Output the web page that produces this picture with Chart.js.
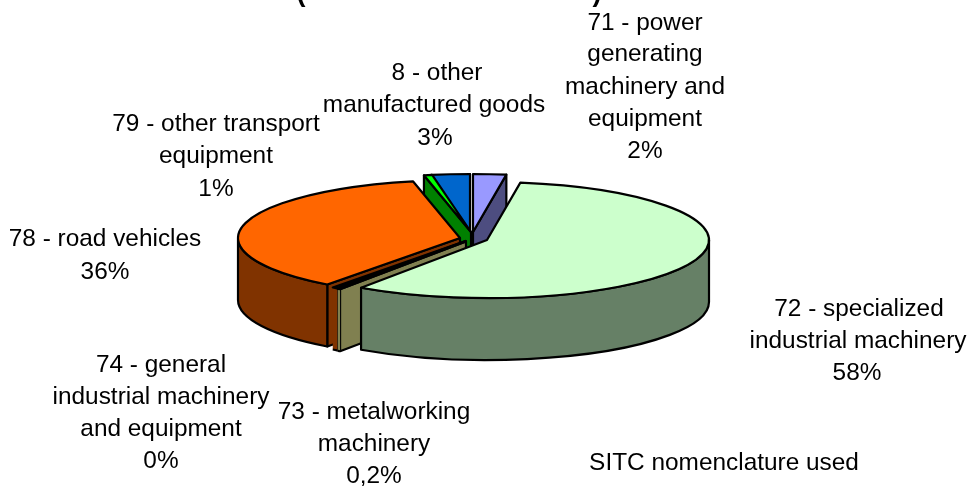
<!DOCTYPE html>
<html><head><meta charset="utf-8">
<style>html,body{margin:0;padding:0;background:#fff}#w{position:relative;width:969px;height:487px}</style>
<script src="https://cdn.jsdelivr.net/npm/chart.js@4"></script>
</head><body><div id="w"><canvas id="c" width="969" height="487"></canvas></div>
<script>
// Data
const categories = ['71 - power generating machinery and equipment','72 - specialized industrial machinery','73 - metalworking machinery','74 - general industrial machinery and equipment','78 - road vehicles','79 - other transport equipment','8 - other manufactured goods'];
const shares = [2.4, 57.2, 0.2, 0.4, 36.4, 0.6, 2.8];
const shareLabels = ['2%','58%','0,2%','0%','36%','1%','3%'];
const noteText = 'SITC nomenclature used';

// Styles
const topColors  = ['#9999ff','#ccffcc','#ffffcc','#993300','#ff6600','#00ff00','#0066cc'];
const sideColors = ['#4d4d80','#668066','#808050','#803300','#803300','#008000','#003366'];
const explodeX = [1, 15, -6, -6.5, -12, -1, -2];
const explodeY = [-7, 1, 2.5, 2, -1, -7, -7];
const paintOrder = [6,5,0,4,3,2,1];
const tilt = 58/222, depth = 62;
const labelLines = [
 ['71 - power',645,23],['generating',645,54],['machinery and',645,87],['equipment',645,119],[shareLabels[0],645,151],
 ['8 - other',437,73],['manufactured goods',434,105],[shareLabels[6],435,138],
 ['79 - other transport',216,124],['equipment',216,156],[shareLabels[5],216,189],
 ['78 - road vehicles',105,239],[shareLabels[4],105,272],
 ['72 - specialized',859,309],['industrial machinery',858,341],[shareLabels[1],857,373],
 ['74 - general',161,365],['industrial machinery',161,397],['and equipment',161,429],[shareLabels[3],161,461],
 ['73 - metalworking',374,412],['machinery',374,444],[shareLabels[2],374,476],
 [noteText,724,463]
];

const pie3d = {
  id:'pie3d',
  beforeDatasetsDraw(chart){
    const ctx = chart.ctx, arcs = chart.getDatasetMeta(0).data;
    ctx.save();
    ctx.lineWidth = 2.2; ctx.lineJoin = 'round'; ctx.strokeStyle = '#000';
    const HALF = Math.PI/2;
    for (const i of paintOrder){
      const el = arcs[i], p = el.getProps(['x','y','startAngle','endAngle','outerRadius'], true);
      const cx = p.x + explodeX[i], cy = p.y + explodeY[i], rx = p.outerRadius, ry = rx*tilt;
      const a0 = p.startAngle, a1 = p.endAngle;
      const rim = a => [cx + rx*Math.cos(a), cy + ry*Math.sin(a)];
      const wall = a => {
        const r = rim(a);
        ctx.beginPath(); ctx.moveTo(cx,cy); ctx.lineTo(r[0],r[1]);
        ctx.lineTo(r[0],r[1]+depth); ctx.lineTo(cx,cy+depth); ctx.closePath();
        ctx.fillStyle = sideColors[i]; ctx.fill(); ctx.stroke();
      };
      if (Math.sin(a0+HALF) < 0) wall(a0);
      if (Math.sin(a1+HALF) > 0) wall(a1);
      const s0 = Math.max(a0, 0), s1 = Math.min(a1, Math.PI);
      if (s1 > s0){
        ctx.beginPath();
        ctx.ellipse(cx,cy,rx,ry,0,s0,s1);
        ctx.ellipse(cx,cy+depth,rx,ry,0,s1,s0,true);
        ctx.closePath();
        ctx.fillStyle = sideColors[i]; ctx.fill();
        if (s1 - s0 < 0.05) {
          ctx.beginPath(); ctx.ellipse(cx,cy+depth,rx,ry,0,s0,s1); ctx.stroke();
        } else ctx.stroke();
      }
      ctx.beginPath(); ctx.moveTo(cx,cy);
      ctx.ellipse(cx,cy,rx,ry,0,a0,a1);
      ctx.closePath();
      ctx.fillStyle = topColors[i]; ctx.fill(); ctx.stroke();
    }
    ctx.restore();
    return false;
  },
  afterDraw(chart){
    const ctx = chart.ctx;
    ctx.save();
    ctx.fillStyle = '#000'; ctx.textAlign = 'center'; ctx.textBaseline = 'middle';
    ctx.font = '24.4px "Liberation Sans", Arial, sans-serif';
    for (const [t,x,y] of labelLines) ctx.fillText(t,x,y);
    ctx.font = 'bold 27px "Liberation Sans", Arial, sans-serif';
    ctx.fillText('(',301,-6); ctx.fillText(')',597,-6);
    ctx.restore();
  }
};

new Chart(document.getElementById('c'),{
  type:'pie',
  data:{labels:categories,datasets:[{data:shares,backgroundColor:topColors,borderWidth:0}]},
  options:{
    responsive:false,animation:false,radius:222,
    layout:{padding:{left:0,right:25,top:0,bottom:9}},
    plugins:{legend:{display:false},tooltip:{enabled:false}}
  },
  plugins:[pie3d]
});
</script></body></html>
